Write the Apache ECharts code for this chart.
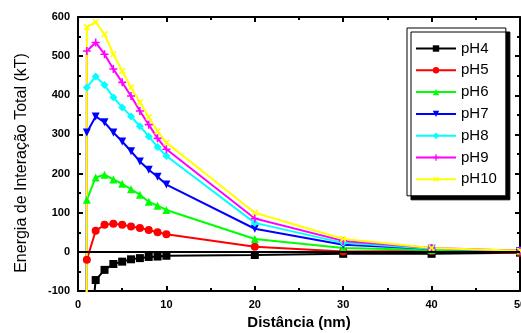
<!DOCTYPE html>
<html>
<head>
<meta charset="utf-8">
<script src="https://cdn.jsdelivr.net/npm/echarts@6/dist/echarts.min.js"></script>
<style>
html, body {margin: 0; padding: 0; background: #fff;}
#chart {width: 521px; height: 333px;}
</style>
</head>
<body>
<div id="chart"></div>
<script>
// distância (nm); o primeiro ponto é a queda abrupta perto de 1 nm
var distancias = [0.95, 1, 2, 3, 4, 5, 6, 7, 8, 9, 10, 20, 30, 40, 50];
var nomes = ['pH4', 'pH5', 'pH6', 'pH7', 'pH8', 'pH9', 'pH10'];
var pH4 = [-2000, -300, -72, -46, -31, -25, -19, -16, -13, -12, -10, -8, -5, -5, -2];
var pH5 = [-2000, -20, 54, 69, 72, 69, 65, 61, 56, 50, 45, 13, 1, 2, -2];
var pH6 = [-2000, 133, 190, 197, 185, 174, 160, 146, 128, 118, 107, 33, 10, 5, 2];
var pH7 = [-2000, 305, 346, 331, 305, 282, 257, 231, 210, 192, 172, 59, 18, 8, 2];
var pH8 = [-2000, 420, 448, 426, 395, 369, 346, 321, 295, 268, 245, 74, 23, 8, 3];
var pH9 = [-2000, 513, 535, 505, 467, 433, 398, 360, 325, 290, 262, 85, 28, 10, 3];
var pH10 = [-2000, 574, 587, 556, 505, 462, 420, 382, 344, 308, 279, 100, 33, 10, 3];
var valores = [pH4, pH5, pH6, pH7, pH8, pH9, pH10];

var cores = ['#000000', '#ff0000', '#00ff00', '#0000ff', '#00ffff', '#ff00ff', '#ffff00'];
var simbolos = [
    'rect', 'circle', 'triangle', 'triangle', 'diamond',
    'path://M4,0h2v4h4v2h-4v4h-2v-4h-4v-2h4z',
    'path://M4,0h2v4h4v2h-4v4h-2v-4h-4v-2h4z'
];
var rotacoes = [0, 0, 0, 180, 0, 0, 45];

var series = nomes.map(function (nome, i) {
    var dados = distancias.map(function (d, j) {
        if (j === 0) {
            return {value: [d, valores[i][j]], symbol: 'none'};
        }
        return [d, valores[i][j]];
    });
    var s = {
        name: nome,
        type: 'line',
        data: dados,
        symbol: simbolos[i],
        symbolRotate: rotacoes[i],
        symbolSize: 8,
        showSymbol: true,
        clip: true,
        color: cores[i],
        lineStyle: {width: 2, color: cores[i]},
        itemStyle: {color: cores[i]},
        emphasis: {disabled: true},
        animation: false
    };
    if (i === 0) {
        s.markLine = {
            silent: true,
            symbol: 'none',
            label: {show: false},
            lineStyle: {color: '#000', width: 2, type: 'solid'},
            data: [{yAxis: 0}]
        };
    }
    return s;
});

var eixoRotulo = {fontFamily: 'Arial, Liberation Sans', fontWeight: 'bold', fontSize: 11, color: '#000'};

var myChart = echarts.init(document.getElementById('chart'), null, {renderer: 'canvas'});
myChart.setOption({
    animation: false,
    grid: {left: 78, right: 1, top: 17, bottom: 42, outerBoundsMode: 'none'},
    legend: {
        orient: 'vertical',
        left: 407,
        top: 28,
        padding: [13, 9, 9, 8],
        itemWidth: 40,
        itemHeight: 8,
        itemGap: 6.8,
        backgroundColor: '#fff',
        borderColor: '#000',
        borderWidth: 1,
        shadowColor: '#000',
        shadowBlur: 0,
        shadowOffsetX: 4,
        shadowOffsetY: 4,
        textStyle: {fontFamily: 'Arial, Liberation Sans', fontSize: 15, color: '#000'},
        data: nomes
    },
    xAxis: [
        {
            type: 'value',
            min: 0,
            max: 50,
            interval: 10,
            name: 'Distância (nm)',
            nameLocation: 'middle',
            nameGap: 24,
            nameTextStyle: {fontFamily: 'Arial, Liberation Sans', fontWeight: 'bold', fontSize: 15, color: '#000'},
            axisLine: {onZero: false, lineStyle: {color: '#000', width: 2}},
            axisTick: {inside: true, length: 5, lineStyle: {color: '#000', width: 2}},
            minorTick: {show: true, splitNumber: 2, length: 3, lineStyle: {color: '#000', width: 2}},
            axisLabel: eixoRotulo,
            splitLine: {show: false}
        },
        {
            type: 'value',
            position: 'top',
            min: 0,
            max: 50,
            interval: 10,
            axisLine: {onZero: false, lineStyle: {color: '#000', width: 2}},
            axisTick: {inside: true, length: 5, lineStyle: {color: '#000', width: 2}},
            minorTick: {show: true, splitNumber: 2, length: 3, lineStyle: {color: '#000', width: 2}},
            axisLabel: {show: false},
            splitLine: {show: false}
        }
    ],
    yAxis: [
        {
            type: 'value',
            min: -100,
            max: 600,
            interval: 100,
            name: 'Energia de Interação Total (kT)',
            nameLocation: 'middle',
            nameGap: 48,
            nameTextStyle: {fontFamily: 'Arial, Liberation Sans', fontSize: 16, color: '#000', padding: [0, 18, 0, 0]},
            axisLine: {onZero: false, lineStyle: {color: '#000', width: 2}},
            axisTick: {inside: true, length: 5, lineStyle: {color: '#000', width: 2}},
            minorTick: {show: true, splitNumber: 2, length: 3, lineStyle: {color: '#000', width: 2}},
            axisLabel: eixoRotulo,
            splitLine: {show: false}
        },
        {
            type: 'value',
            position: 'right',
            min: -100,
            max: 600,
            interval: 100,
            axisLine: {onZero: false, lineStyle: {color: '#000', width: 2}},
            axisTick: {inside: true, length: 5, lineStyle: {color: '#000', width: 2}},
            minorTick: {show: true, splitNumber: 2, length: 3, lineStyle: {color: '#000', width: 2}},
            axisLabel: {show: false},
            splitLine: {show: false}
        }
    ],
    series: series
});
</script>
</body>
</html>
